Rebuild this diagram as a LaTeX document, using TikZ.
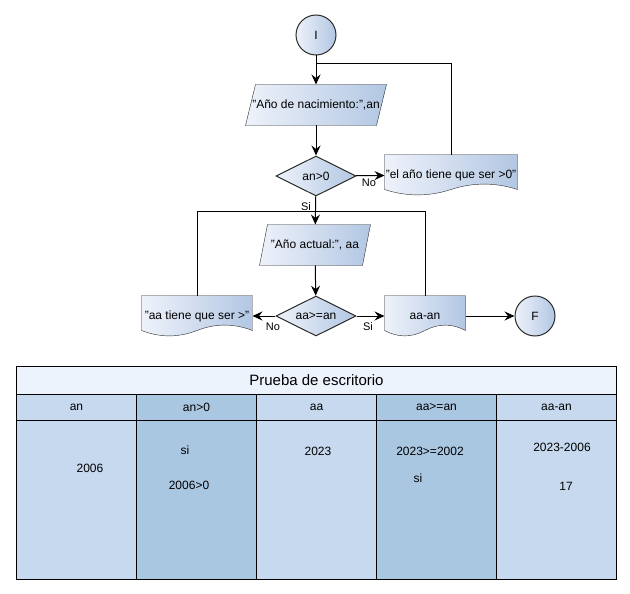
\documentclass[tikz,border=0pt]{standalone}
\usepackage{fontspec}
\setmainfont{Liberation Sans}
\usetikzlibrary{shapes.geometric,arrows.meta,calc,backgrounds}
\definecolor{gl}{HTML}{EEF2FA}
\definecolor{gr}{HTML}{B2C7E3}
\definecolor{stk}{HTML}{2B2B2B}
\definecolor{ttl}{HTML}{EDF3FC}
\definecolor{cl}{HTML}{C6D9EE}
\definecolor{cd}{HTML}{AAC7E2}
\newcommand{\mydocshape}[1]{%
  \path[grad] (#1.north west) -- (#1.north east) --
    ($(#1.south east)+(0,-6)$)
    .. controls ($(#1.south west)!5/6!(#1.south east)+(0,-13.2)$)
       and ($(#1.south west)!2/3!(#1.south east)+(0,-13.2)$) ..
    ($(#1.south west)!1/2!(#1.south east)+(0,-6)$)
    .. controls ($(#1.south west)!1/3!(#1.south east)+(0,1.2)$)
       and ($(#1.south west)!1/6!(#1.south east)+(0,1.2)$) ..
    ($(#1.south west)+(0,-6)$) -- cycle;}
\newcommand{\myparashape}[2]{%
  \path[grad] ([xshift=#2pt]#1.north west) -- (#1.north east) --
    ([xshift=-#2pt]#1.south east) -- (#1.south west) -- cycle;}
\begin{document}
\begin{tikzpicture}[x=1pt,y=-1pt,line width=1pt,
  ft/.style={font=\fontsize{12}{14}\selectfont},
  grad/.style={left color=gl,right color=gr,draw=stk},
  term/.style={circle,grad,minimum size=40pt,inner sep=0pt,ft},
  decis/.style={diamond,grad,minimum width=80pt,minimum height=40pt,aspect=2,inner sep=0pt,ft},
  slot/.style={rectangle,draw=none,inner sep=0pt,ft},
  arr/.style={-{Stealth[length=10pt,width=9pt,inset=3.5pt]}},
  lbl/.style={font=\fontsize{11}{13}\selectfont,inner sep=0pt},
  cell/.style={rectangle,draw=black,inner sep=0pt,anchor=north west,minimum width=120pt},
  ctext/.style={inner sep=0pt,ft}
]
\useasboundingbox (0,0) rectangle (630,594);

% flowchart nodes
\node[term] (I) at (316,35) {I};
\node[slot,minimum width=140pt,minimum height=40pt] (p1) at (316,105) {"Año de nacimiento:",an};
\node[decis] (c1) at (316,176) {an>0};
\node[slot,minimum width=132pt,minimum height=40pt] (d1) at (451,175) {"el año tiene que ser >0"};
\node[slot,minimum width=110pt,minimum height=40pt] (p2) at (315,245) {"Año actual:", aa};
\node[decis] (c2) at (316,316) {aa>=an};
\node[slot,minimum width=110pt,minimum height=40pt] (d2) at (197,316) {"aa tiene que ser >"};
\node[slot,minimum width=80pt,minimum height=40pt] (d3) at (425,316) {aa-an};
\node[term] (F) at (535,316) {F};

\begin{scope}[on background layer]
  \myparashape{p1}{10}
  \myparashape{p2}{8}
  \mydocshape{d1}
  \mydocshape{d2}
  \mydocshape{d3}
\end{scope}

\coordinate (j1) at (316,64);
\coordinate (j2) at (316,211);

% connectors
\draw[arr] (I) -- (p1);
\draw (d1.north) |- (j1);
\draw[arr] (p1) -- (c1);
\draw[arr] (c1) -- (d1);
\node[lbl] (no1) at (369,183) {No};
\draw[arr] (c1) -- (p2);
\node[lbl] (si1) at (306,207) {Si};
\draw (d2.north) |- (j2);
\draw (d3.north) |- (j2);
\draw[arr] (p2) -- (c2);
\draw[arr] (c2) -- (d2);
\node[lbl] (no2) at (273,327) {No};
\draw[arr] (c2) -- (d3);
\node[lbl] (si2) at (368,327) {Si};
\draw[arr] (d3) -- (F);

% table
\node[cell,fill=ttl,minimum width=600pt,minimum height=28pt,font=\fontsize{15}{17}\selectfont] (tt) at (16,366) {Prueba de escritorio};
\node[cell,fill=cl,minimum height=26pt,ft] (h1) at (16,394) {an};
\node[cell,fill=cd,minimum height=26pt,ft] (h2) at (136,394) {an>0};
\node[cell,fill=cl,minimum height=26pt,ft] (h3) at (256,394) {aa};
\node[cell,fill=cd,minimum height=26pt,ft] (h4) at (376,394) {aa>=an};
\node[cell,fill=cl,minimum height=26pt,ft] (h5) at (496,394) {aa-an};
\node[cell,fill=cl,minimum height=159pt] (b1) at (16,420) {};
\node[cell,fill=cd,minimum height=159pt] (b2) at (136,420) {};
\node[cell,fill=cl,minimum height=159pt] (b3) at (256,420) {};
\node[cell,fill=cd,minimum height=159pt] (b4) at (376,420) {};
\node[cell,fill=cl,minimum height=159pt] (b5) at (496,420) {};

\node[ctext] (t1) at (90,468) {2006};
\node[ctext] (t2) at (185,450) {si};
\node[ctext] (t3) at (189,485) {2006>0};
\node[ctext] (t4) at (318,451) {2023};
\node[ctext] (t5) at (430,451) {2023>=2002};
\node[ctext] (t6) at (418,478) {si};
\node[ctext] (t7) at (562,447) {2023-2006};
\node[ctext] (t8) at (566,486) {17};
\end{tikzpicture}
\end{document}
